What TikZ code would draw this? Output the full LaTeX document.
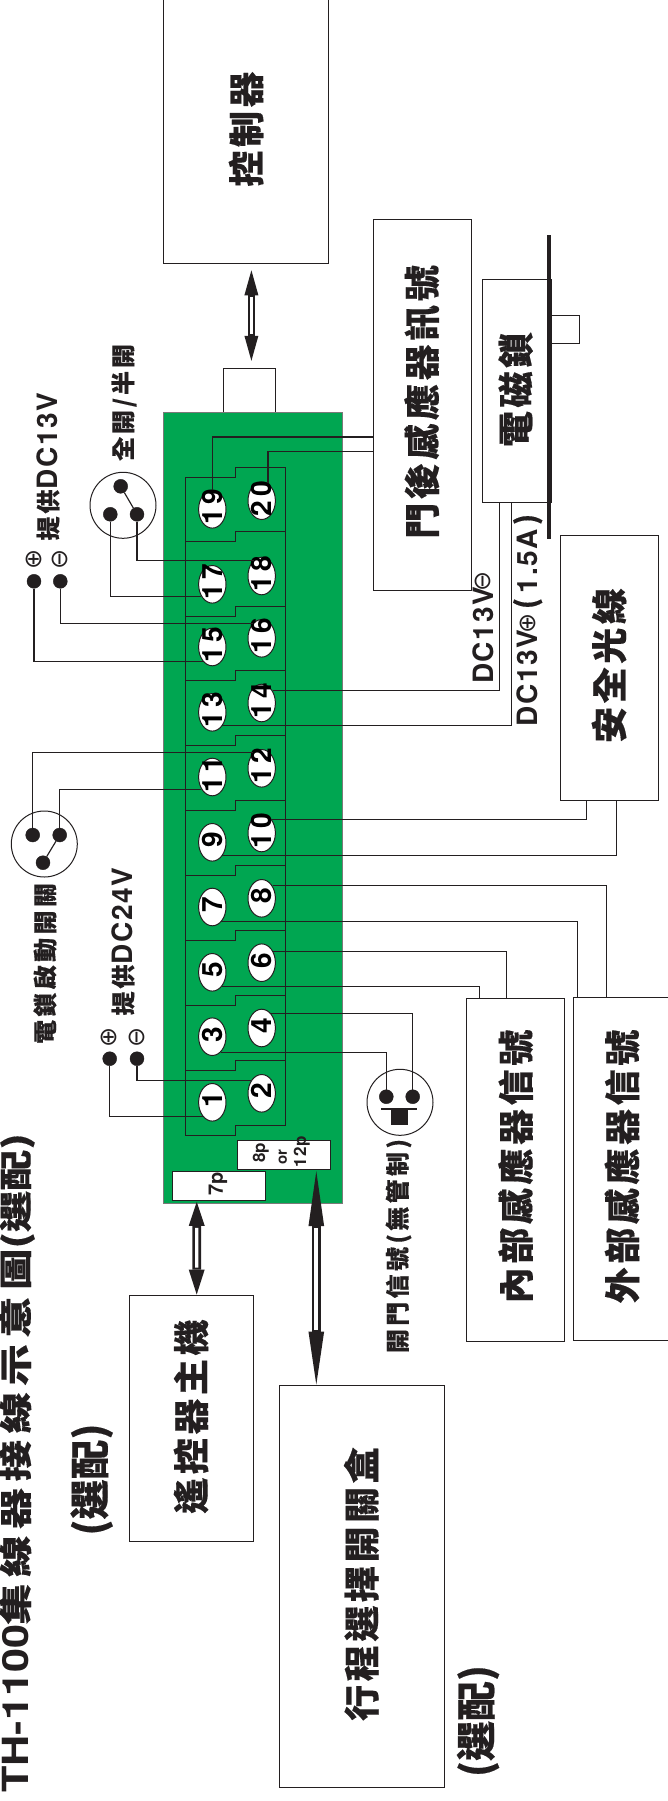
\documentclass[tikz,border=0pt]{standalone}
\usepackage{fontspec}
\usepackage{graphicx}
\usetikzlibrary{shapes.geometric,arrows.meta}
\setmainfont{TeX Gyre Heros}
\newfontfamily\cjk{Noto Sans CJK TC}
\newfontfamily\lat{TeX Gyre Heros}
\newfontfamily\sym{DejaVu Sans}
\definecolor{ink}{HTML}{231F20}
\definecolor{board}{HTML}{00A651}
\newcommand\lb[3]{{\fontsize{#1}{#1}\cjk\bfseries\addfontfeature{LetterSpace=#2,FakeBold=0.35}\selectfont #3}}
\newcommand\la[3]{{\fontsize{#1}{#1}\lat\bfseries\addfontfeature{LetterSpace=#2}\selectfont #3}}
\newcommand\sy[1]{{\fontsize{24}{24}\sym\selectfont #1}}
\newcommand\tnum[1]{\makebox[0pt][c]{\smash{\raisebox{-0.5\height}{\rotatebox{90}{\la{28}{16}{#1}\kern-4.5pt}}}}}
\tikzset{
  boxn/.style={draw=ink,line width=1pt,fill=white,rectangle,inner sep=0pt},
  wire/.style={draw=ink,line width=1.15pt},
  term/.style={draw=ink,line width=1pt,fill=white,ellipse,inner sep=0pt,minimum width=27.4pt,minimum height=37.6pt},
  dotn/.style={circle,fill=ink,draw=ink,inner sep=0pt,minimum size=14pt},
  swc/.style={circle,draw=ink,line width=1pt,fill=white,inner sep=0pt,minimum size=66pt},
  rot/.style={rotate=90,inner sep=0pt,text=ink},
  barn/.style={fill=ink,inner sep=0pt,rectangle},
}
\newcommand\bx[6]{\node[boxn,minimum width={(#4)-(#3)},minimum height={(#6)-(#5)}] (#1) at ({((#3)+(#4))/2},{((#5)+(#6))/2}) {#2};}
% #1 upper end, #2 lower end, #3 shaft width, #4 head length, #5 head width, #6 core width, #7 lower head length
\newcommand\dbl[7]{%
  \path #1 coordinate (dblA) #2 coordinate (dblB);
  \fill[ink] (dblA) -- ([xshift=-#5pt/2,yshift=-#4pt]dblA) -- ([xshift=#5pt/2,yshift=-#4pt]dblA) -- cycle;
  \fill[ink] (dblB) -- ([xshift=-#5pt/2,yshift=#7pt]dblB) -- ([xshift=#5pt/2,yshift=#7pt]dblB) -- cycle;
  \draw[ink,line width=#3pt] ([yshift=-#4pt]dblA) -- ([yshift=#7pt]dblB);
  \draw[white,line width=#6pt] ([yshift=-#4pt-2pt]dblA) -- ([yshift=#7pt+2pt]dblB);
}
\begin{document}
\begin{tikzpicture}[x=1pt,y=-1pt]
\clip (0,0) rectangle (668,1801);
\useasboundingbox (0,0) rectangle (668,1801);
\fill[white] (0,0) rectangle (668,1801);

% boxes
\bx{ctrl}{}{163}{328.5}{-30}{263}
\bx{door}{}{373}{471}{219}{590}
\bx{lock}{}{482}{551}{279}{502}
\bx{pin}{}{551}{579}{315}{343}
\bx{conn}{}{223}{275}{368}{413}
\bx{safety}{}{560}{658.7}{535}{800.5}
\bx{inner}{}{466}{564.5}{998}{1341.6}
\bx{outer}{}{573}{700}{997.2}{1340.5}
\bx{remote}{}{129.5}{253}{1295}{1541}
\bx{travel}{}{279}{444.4}{1385.6}{1787}
\node[barn,minimum width=3.4pt,minimum height=304pt] (lockbar) at (549,387) {};

% green board
\node[rectangle,fill=board,draw=ink!60,line width=.8pt,inner sep=0pt,minimum width=179pt,minimum height=790.6pt] (pcb) at (252.7,808) {};
\bx{p8}{}{237}{330}{1140.3}{1169.3}
\bx{p7}{}{172.3}{265}{1171.7}{1200.3}

% terminal strip outline
\draw[ink,line width=1pt]
  (185.5,477) -- (235.3,477) -- (235.3,467) -- (285.3,467) -- (285.3,1125)
  -- (235.3,1125) -- (235.3,1135) -- (185.5,1135) -- cycle;
\foreach \ya/\yb in {541.3/531.3,616.3/606.3,680.3/670.3,745.3/735.3,810.3/800.3,875.3/865.3,940.3/930.3,1005.3/995.3,1070.7/1060.7}
  \draw[ink,line width=1pt] (185.5,\ya) -- (235.3,\ya) -- (235.3,\yb) -- (285.3,\yb);

% terminals
\foreach \n/\yy in {1/1102.3,3/1036.7,5/972.3,7/907,9/842.3,11/777,13/712.3,15/647,17/584.3,19/509.3}
  \node[term] (t\n) at (212.3,\yy) {\tnum{\n}};
\foreach \n/\yy in {2/1093.3,4/1028,6/962.7,8/898.3,10/833,12/768.3,14/703,16/638.3,18/576,20/500.7}
  \node[term] (t\n) at (261.7,\yy) {\tnum{\n}};

% switch circles and dots
\node[swc] (swa) at (123,505.3) {};
\node[dotn] (ast) at (120.7,486.3) {};
\node[dotn] (asl) at (110.3,514.3) {};
\node[dotn] (asr) at (137,514.3) {};
\draw[wire] (ast) -- (asr);
\node[swc] (swb) at (44.3,844) {};
\node[dotn] (bsl) at (32.7,835) {};
\node[dotn] (bsr) at (59.7,835) {};
\node[dotn] (bsb) at (43,862.7) {};
\draw[wire] (bsr) -- (bsb);
\node[swc] (swc) at (400,1102.3) {};
\node[dotn] (csl) at (386.3,1096.7) {};
\node[dotn] (csr) at (412.7,1096.7) {};
\node[barn,minimum width=36.3pt,minimum height=2.6pt] (cbar) at (399.2,1109) {};
\node[barn,minimum width=16.7pt,minimum height=15pt] (cblk) at (399.4,1117.4) {};

\node[dotn] (pp13) at (34,581.3) {};
\node[dotn] (pm13) at (60.3,581.3) {};
\node[dotn] (pp24) at (109.7,1058.7) {};
\node[dotn] (pm24) at (137,1058.7) {};

% wires
\draw[wire] (t19.north) |- ([yshift=-32.5pt]door.west);
\draw[wire] (t20.70) |- ([yshift=-47.2pt]door.west);
\draw[wire] (asr) |- (t18.117);
\draw[wire] (asl) |- (t17.228);
\draw[wire] (pm13) |- (t16.120);
\draw[wire] (pp13) |- (t15.238);
\draw[wire] (t14.49) -| ([xshift=18pt]lock.south west);
\draw[wire] (t13.-53) -| ([xshift=30.3pt]lock.south west);
\draw[wire] (bsl) |- (t12.119);
\draw[wire] (bsr) |- (t11.229);
\draw[wire] (t10.53) -| ([xshift=26.7pt]safety.south west);
\draw[wire] (t9.-53) -| ([xshift=57.4pt]safety.south west);
\draw[wire] (t8.49) -| ([xshift=33.7pt]outer.north west);
\draw[wire] (t7.-58) -| ([xshift=5pt]outer.north west);
\draw[wire] (t6.45) -| ([xshift=41pt]inner.north west);
\draw[wire] (t5.-56) -| ([xshift=14pt]inner.north west);
\draw[wire] (t4.58) -| (csr);
\draw[wire] (t3.-61) -| (csl);
\draw[wire] (pm24) |- (t2.130);
\draw[wire] (pp24) |- (t1.236);

% thick double arrows
\dbl{([xshift=5.65pt,yshift=-6.8pt]ctrl.south)}{([xshift=2.4pt,yshift=6.7pt]conn.north)}{7.5}{25}{14}{2.6}{25}
\dbl{([xshift=-21.9pt,yshift=-1pt]p7.south)}{([xshift=5.45pt]remote.north)}{8.7}{24}{16}{3.2}{25}
\dbl{([xshift=32.8pt,yshift=-1.4pt]p8.south)}{([xshift=-45.4pt,yshift=.6pt]travel.north)}{9}{55}{15.7}{4}{53}

% box labels
\node[rot] (lctrl) at (246,129) {\lb{36}{10}{控制器}};
\node[rot] (ldoor) at (422,402) {\lb{36}{10}{門後感應器訊號}};
\node[rot] (llock) at (515.6,389.5) {\lb{36}{10}{電磁鎖}};
\node[rot] (lsafe) at (609,665.5) {\lb{36}{10}{安全光線}};
\node[rot] (linner) at (515.6,1166.5) {\lb{36}{10}{內部感應器信號}};
\node[rot] (louter) at (622,1166.5) {\lb{36}{10}{外部感應器信號}};
\node[rot] (lrem) at (191,1416.5) {\lb{36}{10}{遙控器主機}};
\node[rot] (ltrav) at (361.3,1584) {\lb{36}{10}{行程選擇開關盒}};
\node[rot] (lopta) at (91.6,1479.5) {\lb{40}{0}{(選配)}};
\node[rot] (loptb) at (478,1721) {\lb{40}{0}{(選配)}};

% title
\node[rotate=90,inner sep=0pt,anchor=base west,text=ink] (title) at (28,1793)
  {\scalebox{1.2}[1]{\la{36}{0}{TH-1100}}\scalebox{1.25}[1]{\lb{33}{16}{集線器接線示意圖}\lb{33}{0}{(選配)}}};

% small labels
\node[rot] (l13a) at (48,466.5) {\lb{24}{12}{提供}\la{28}{6}{DC13V}};
\node[rot] (l24a) at (123,941.5) {\lb{24}{12}{提供}\la{28}{6}{DC24V}};
\node[rot] (lfull) at (124,402.5) {\lb{24}{12}{全開/半開}};
\node[rot] (lact) at (45,963.5) {\lb{24}{14}{電鎖啟動開關}};
\node[rot] (lopen) at (398.5,1246) {\lb{24}{14}{開門信號(無管制)}};
\node[rot] (ldcm) at (483.3,635.5) {\la{28}{6}{DC13V}};
\node[rot] (ldcp) at (527.7,678) {\la{28}{6}{DC13V}};
\node[rot] (ldca) at (527.7,561) {\la{28}{6}{1.5A}};
\node[rot] (lpa) at (527.7,603.5) {\lb{28}{0}{(}};
\node[rot] (lpb) at (527.7,519.5) {\lb{28}{0}{)}};

\node[rot] (sp13) at (34.3,559.7) {\sy{⊕}};
\node[rot] (sm13) at (60.3,559.7) {\sy{⊖}};
\node[rot] (sp24) at (109,1037.7) {\sy{⊕}};
\node[rot] (sm24) at (137,1037.7) {\sy{⊖}};
\node[rot] (smd) at (483.3,581.7) {\sy{⊖}};
\node[rot] (spd) at (527.7,623.3) {\sy{⊕}};

\node[rot] (l8p) at (260.7,1152.7) {\la{17}{0}{8p}};
\node[rot] (lor) at (282.7,1156.7) {\la{15}{0}{or}};
\node[rot] (l12p) at (301.7,1151.7) {\la{17}{4}{12p}};
\node[rot] (l7p) at (218,1183.5) {\la{20}{0}{7p}};
\end{tikzpicture}
\end{document}
